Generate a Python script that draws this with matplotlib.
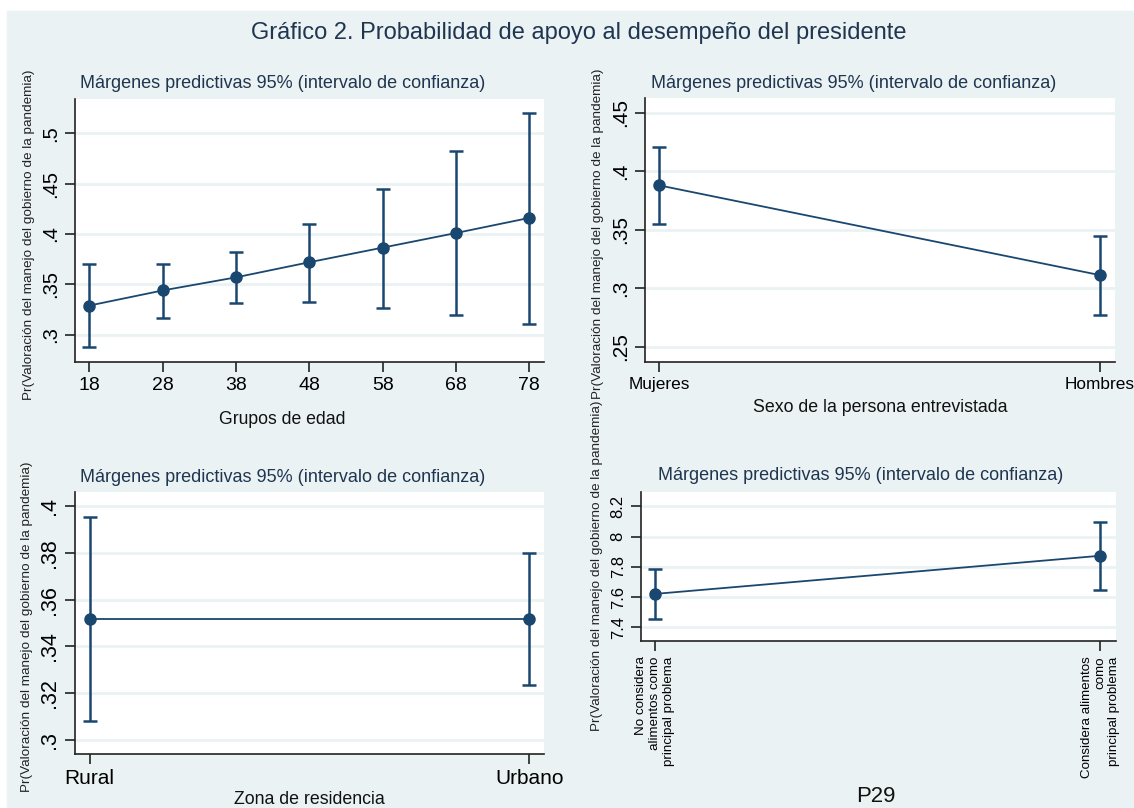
import matplotlib.pyplot as plt
from matplotlib.patches import Rectangle

plt.rcParams['font.family'] = ['Liberation Sans', 'DejaVu Sans']

# panel 1: age groups
edad = [18, 28, 38, 48, 58, 68, 78]
edad_m = [0.329, 0.344, 0.357, 0.372, 0.3865, 0.401, 0.416]
edad_hi = [0.370, 0.370, 0.382, 0.410, 0.4445, 0.482, 0.520]
edad_lo = [0.288, 0.3165, 0.332, 0.333, 0.327, 0.3195, 0.311]

# panel 2: sex
sexo = ['Mujeres', 'Hombres']
sexo_m = [0.388, 0.3113]
sexo_hi = [0.4204, 0.345]
sexo_lo = [0.3546, 0.2768]

# panel 3: zone
zona = ['Rural', 'Urbano']
zona_m = [0.3518, 0.3518]
zona_hi = [0.3954, 0.3798]
zona_lo = [0.3081, 0.3237]

# panel 4: P29
p29 = ['No considera\nalimentos como\nprincipal problema',
       'Considera alimentos\ncomo\nprincipal problema']
p29_m = [7.621, 7.873]
p29_hi = [7.783, 8.093]
p29_lo = [7.455, 7.645]

bg = '#eaf2f3'
navy = '#1a476f'
subtitle = 'Márgenes predictivas 95% (intervalo de confianza)'
ylab = 'Pr(Valoración del manejo del gobierno de la pandemia)'

W, H = 1134, 808
fig = plt.figure(figsize=(W / 100, H / 100), dpi=100)
fig.patches.append(Rectangle((7 / W, 0), 1, 1 - 11 / H, transform=fig.transFigure,
                             color=bg, zorder=-10))


def px_axes(x0, y0, x1, y1):
    # pixel box (top-left origin) to axes
    return fig.add_axes([x0 / W, 1 - y1 / H, (x1 - x0) / W, (y1 - y0) / H])


def panel(ax, x, m, lo, hi, ylim, xlim, yticks, yticklabels, ysize):
    ax.set_facecolor('white')
    yerr = [[a - b for a, b in zip(m, lo)], [b - a for a, b in zip(m, hi)]]
    ax.plot(x, m, color=navy, lw=1.3, zorder=3)
    ax.errorbar(x, m, yerr=yerr, fmt='o', color=navy, ms=8, elinewidth=1.8,
                capsize=5, capthick=1.8, zorder=4)
    ax.set_ylim(*ylim)
    ax.set_xlim(*xlim)
    ax.set_yticks(yticks)
    ax.set_yticklabels(yticklabels, rotation=90, va='center', fontsize=ysize)
    ax.grid(axis='y', color=bg, lw=2)
    ax.set_axisbelow(True)
    for s in ['top', 'right']:
        ax.spines[s].set_visible(False)
    for s in ['left', 'bottom']:
        ax.spines[s].set_color('#222222')
        ax.spines[s].set_linewidth(1.2)
    ax.tick_params(length=7, width=1.2, color='#222222', pad=4)


def label_y(xpx, ypx, size=9.7):
    fig.text(xpx / W, 1 - ypx / H, ylab, rotation=90, ha='center', va='center',
             fontsize=size, color='#222222')


def text_px(xpx, ypx, s, size, ha='center', color='#111111'):
    fig.text(xpx / W, 1 - ypx / H, s, ha=ha, va='center', fontsize=size, color=color)


fig.text(579 / W, 1 - 33 / H, 'Gráfico 2. Probabilidad de apoyo al desempeño del presidente',
         ha='center', va='center', fontsize=17, color='#1f3550')

# top-left
ax1 = px_axes(75, 99, 544, 362)
panel(ax1, edad, edad_m, edad_lo, edad_hi, (0.273, 0.534), (16.05, 80.0),
      [0.3, 0.35, 0.4, 0.45, 0.5], ['.3', '.35', '.4', '.45', '.5'], 14.5)
ax1.set_xticks(edad)
ax1.set_xticklabels([str(v) for v in edad], fontsize=14)
text_px(80, 84, subtitle, 13, ha='left', color='#1f3550')
text_px(282, 419, 'Grupos de edad', 12.7)
label_y(29, 235)

# top-right
ax2 = px_axes(645, 98, 1115, 362)
panel(ax2, [0, 1], sexo_m, sexo_lo, sexo_hi, (0.237, 0.4626), (-0.0315, 1.035),
      [0.25, 0.3, 0.35, 0.4, 0.45], ['.25', '.3', '.35', '.4', '.45'], 15)
ax2.set_xticks([0, 1])
ax2.set_xticklabels(sexo, fontsize=12.4)
text_px(651, 84, subtitle, 13, ha='left', color='#1f3550')
text_px(880, 407, 'Sexo de la persona entrevistada', 12.8)
label_y(598, 234)

# bottom-left
ax3 = px_axes(75, 492, 544, 754)
panel(ax3, [0, 1], zona_m, zona_lo, zona_hi, (0.294, 0.406), (-0.033, 1.033),
      [0.3, 0.32, 0.34, 0.36, 0.38, 0.4], ['.3', '.32', '.34', '.36', '.38', '.4'], 15.5)
ax3.set_xticks([0, 1])
ax3.set_xticklabels(zona, fontsize=15)
text_px(80, 477, subtitle, 13, ha='left', color='#1f3550')
text_px(309, 799, 'Zona de residencia', 12.8)
label_y(27, 627)

# bottom-right
ax4 = px_axes(641, 492, 1116, 641)
panel(ax4, [0, 1], p29_m, p29_lo, p29_hi, (7.31, 8.294), (-0.0314, 1.035),
      [7.4, 7.6, 7.8, 8.0, 8.2], ['7.4', '7.6', '7.8', '8', '8.2'], 12)
ax4.set_xticks([0, 1])
ax4.set_xticklabels(p29, fontsize=9.6, rotation=90, va='top', ha='center',
                    linespacing=1.2, multialignment='right')
text_px(658, 475, subtitle, 13, ha='left', color='#1f3550')
text_px(876, 797, 'P29', 15.9)
label_y(597, 566)

fig.savefig('out.png', dpi=100)
